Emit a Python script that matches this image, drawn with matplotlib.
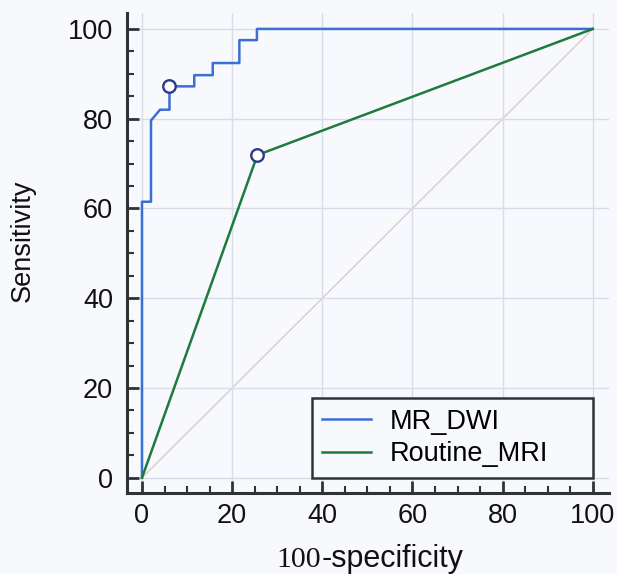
import matplotlib.pyplot as plt
from matplotlib.ticker import MultipleLocator

# ROC data (x = 100-specificity, y = sensitivity)
dwi_x = [0, 0, 2.0, 2.0, 4.0, 6.1, 6.1, 11.6, 11.6, 15.7, 15.7, 21.6, 21.6, 25.5, 25.5, 100]
dwi_y = [0, 61.5, 61.5, 79.6, 82.0, 82.0, 87.2, 87.2, 89.7, 89.7, 92.4, 92.4, 97.5, 97.5, 100, 100]
dwi_cut = (6.1, 87.2)

mri_x = [0, 25.6, 100]
mri_y = [0, 71.9, 100]
mri_cut = (25.6, 71.9)

ticks = [0, 20, 40, 60, 80, 100]

plt.rcParams['font.family'] = ['Liberation Sans', 'DejaVu Sans']
bg = '#f8f9fc'
axc = '#2e3436'
txt = '#111111'

fig = plt.figure(figsize=(6.17, 5.74), dpi=100, facecolor=bg)
ax = fig.add_axes([0.206, 0.141, 0.781, 0.836], facecolor=bg)

ax.plot([0, 100], [0, 100], color='#dccaca', lw=1.0, zorder=1)
ax.plot(dwi_x, dwi_y, color='#3b6fd4', lw=1.8, label='MR_DWI', zorder=3)
ax.plot(mri_x, mri_y, color='#1e7b3e', lw=1.8, label='Routine_MRI', zorder=3)
ax.plot(*dwi_cut, 'o', ms=9, mfc='white', mec='#2a3a8a', mew=1.7, zorder=4)
ax.plot(*mri_cut, 'o', ms=9, mfc='white', mec='#2a3a8a', mew=1.7, zorder=4)

ax.set_xlim(-3.3, 103.6)
ax.set_ylim(-3.4, 103.5)
ax.set_xticks(ticks)
ax.set_yticks(ticks)
ax.xaxis.set_minor_locator(MultipleLocator(5))
ax.yaxis.set_minor_locator(MultipleLocator(5))
ax.grid(True, which='major', color='#d6dde8', lw=1.0, zorder=0)

for s in ['top', 'right']:
    ax.spines[s].set_visible(False)
for s in ['left', 'bottom']:
    ax.spines[s].set_color(axc)
    ax.spines[s].set_linewidth(2.2)

ax.tick_params(which='major', direction='in', length=8.5, width=2.0, color=axc,
               labelsize=19.5, labelcolor=txt)
ax.tick_params(axis='y', which='major', pad=10)
ax.tick_params(axis='x', which='major', pad=7)
ax.tick_params(which='minor', direction='in', length=5, width=1.5, color=axc)

ax.set_ylabel('Sensitivity', fontsize=19.5, color=txt)
ax.yaxis.set_label_coords(-0.19, 0.525)

# x label: "100" in a serif face, the rest in sans, as in the original
fig.text(0.521, 0.0127, '100', fontsize=21.5, family='Liberation Serif',
         ha='right', va='baseline', color=txt)
fig.text(0.521, 0.0127, '-specificity', fontsize=22, ha='left',
         va='baseline', color=txt)

leg = ax.legend(loc='lower left', bbox_to_anchor=(0.383, 0.031, 0.583, 0.168),
                mode='expand', fontsize=19.5, handlelength=1.8, handletextpad=0.7,
                borderpad=0.4, labelspacing=0.25, fancybox=False, framealpha=1,
                facecolor=bg, edgecolor=axc, borderaxespad=0)
leg.get_frame().set_linewidth(1.8)

fig.savefig('out.png', dpi=100, facecolor=bg)
